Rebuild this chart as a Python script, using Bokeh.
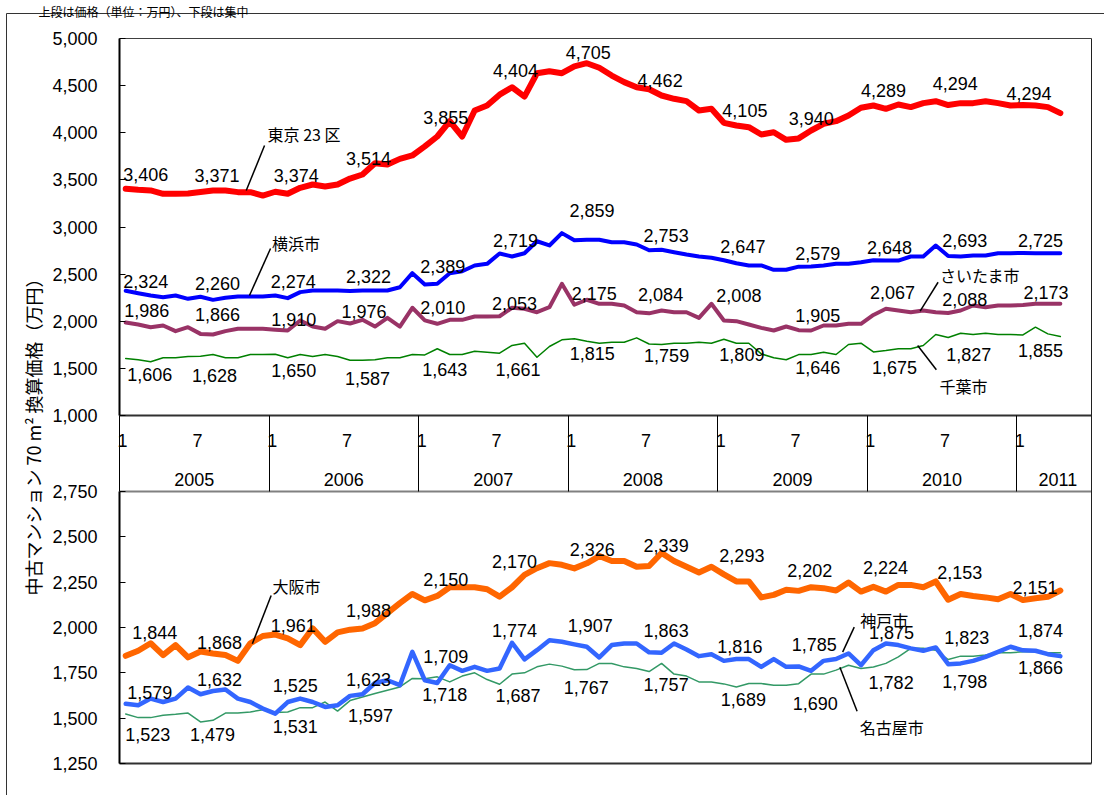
import math
from bokeh.plotting import figure
from bokeh.models import (Range1d, LinearAxis, FixedTicker, ColumnDataSource, Label,
                          NumeralTickFormatter)
from bokeh.core.properties import value
from bokeh.embed import file_html
from bokeh.resources import INLINE

# ---------------- data (monthly, Jan 2005 .. Apr 2011) ----------------
years = ["2005", "2006", "2007", "2008", "2009", "2010", "2011"]
month_marks = ["1", "7"]
n_slots = 78  # axis runs Jan 2005 .. Jun 2011

tokyo = [3406, 3395, 3388, 3352, 3352, 3355, 3371, 3388, 3388, 3370, 3370, 3334,
         3374, 3352, 3416, 3451, 3430, 3451, 3514, 3557, 3677, 3663, 3723, 3759,
         3855, 3960, 4122, 3960, 4236, 4289, 4404, 4483, 4384, 4631, 4653, 4632,
         4705, 4738, 4689, 4607, 4537, 4483, 4462, 4395, 4360, 4335, 4236, 4254,
         4105, 4077, 4059, 3981, 4006, 3925, 3940, 4024, 4095, 4123, 4183, 4265,
         4289, 4254, 4300, 4272, 4314, 4335, 4294, 4314, 4314, 4335, 4314, 4289,
         4294, 4289, 4272, 4208]
yokohama = [2324, 2298, 2273, 2255, 2273, 2238, 2260, 2227, 2249, 2262, 2262, 2262,
            2274, 2245, 2309, 2326, 2326, 2326, 2322, 2326, 2326, 2326, 2361, 2510,
            2389, 2397, 2510, 2531, 2592, 2609, 2719, 2687, 2722, 2849, 2804, 2935,
            2859, 2864, 2864, 2839, 2839, 2815, 2753, 2758, 2733, 2708, 2687, 2673,
            2647, 2616, 2592, 2592, 2546, 2546, 2579, 2580, 2592, 2609, 2609, 2627,
            2648, 2644, 2644, 2687, 2687, 2804, 2693, 2687, 2698, 2698, 2722, 2722,
            2725, 2722, 2722, 2722]
saitama = [1986, 1966, 1937, 1955, 1895, 1937, 1866, 1859, 1895, 1920, 1920, 1920,
           1910, 1902, 2008, 1944, 1920, 2001, 1976, 2015, 1944, 2036, 1944, 2143,
           2010, 1973, 2015, 2015, 2050, 2050, 2053, 2143, 2132, 2096, 2149, 2397,
           2175, 2228, 2185, 2185, 2167, 2096, 2084, 2114, 2096, 2096, 2036, 2185,
           2008, 2001, 1966, 1930, 1902, 1944, 1905, 1902, 1955, 1955, 1973, 1973,
           2067, 2132, 2114, 2096, 2114, 2096, 2088, 2114, 2167, 2149, 2167, 2167,
           2173, 2185, 2185, 2185]
chiba = [1606, 1591, 1570, 1612, 1612, 1626, 1628, 1647, 1612, 1612, 1647, 1647,
         1650, 1612, 1647, 1626, 1647, 1626, 1587, 1585, 1591, 1612, 1612, 1647,
         1643, 1708, 1647, 1647, 1682, 1672, 1661, 1743, 1767, 1618, 1732, 1803,
         1815, 1788, 1767, 1778, 1778, 1824, 1759, 1753, 1767, 1767, 1778, 1767,
         1809, 1767, 1767, 1654, 1612, 1591, 1646, 1647, 1672, 1647, 1753, 1767,
         1675, 1690, 1708, 1708, 1743, 1859, 1827, 1873, 1859, 1873, 1859, 1859,
         1855, 1937, 1866, 1838]
osaka = [1844, 1872, 1913, 1848, 1903, 1835, 1868, 1857, 1848, 1816, 1913, 1953,
         1961, 1940, 1903, 1995, 1921, 1973, 1988, 1995, 2024, 2079, 2134, 2185,
         2150, 2174, 2222, 2222, 2222, 2211, 2170, 2222, 2290, 2327, 2355, 2346,
         2326, 2354, 2394, 2367, 2367, 2335, 2339, 2411, 2367, 2335, 2303, 2335,
         2293, 2254, 2254, 2166, 2180, 2208, 2202, 2222, 2217, 2204, 2248, 2198,
         2224, 2198, 2235, 2235, 2222, 2254, 2153, 2185, 2174, 2166, 2156, 2185,
         2151, 2161, 2169, 2204]
kobe = [1579, 1571, 1608, 1589, 1608, 1669, 1632, 1650, 1658, 1608, 1589, 1553,
        1525, 1589, 1608, 1589, 1562, 1571, 1623, 1632, 1694, 1709, 1682, 1866,
        1709, 1694, 1792, 1761, 1783, 1761, 1774, 1916, 1824, 1875, 1930, 1921,
        1907, 1894, 1835, 1903, 1912, 1912, 1863, 1861, 1912, 1879, 1842, 1853,
        1816, 1826, 1826, 1783, 1826, 1783, 1785, 1761, 1816, 1826, 1857, 1792,
        1875, 1912, 1903, 1885, 1872, 1890, 1798, 1802, 1816, 1838, 1866, 1894,
        1874, 1872, 1853, 1842]
nagoya = [1523, 1503, 1503, 1516, 1521, 1528, 1479, 1488, 1528, 1528, 1534, 1547,
          1531, 1534, 1558, 1558, 1589, 1539, 1597, 1617, 1636, 1654, 1672, 1719,
          1718, 1728, 1700, 1732, 1750, 1713, 1687, 1743, 1750, 1783, 1798, 1787,
          1767, 1768, 1802, 1802, 1783, 1774, 1757, 1802, 1743, 1732, 1700, 1700,
          1689, 1672, 1691, 1691, 1682, 1682, 1690, 1743, 1743, 1765, 1792, 1774,
          1782, 1802, 1838, 1885, 1885, 1875, 1823, 1842, 1842, 1848, 1861, 1861,
          1866, 1866, 1861, 1861]

top_ticks = [1000, 1500, 2000, 2500, 3000, 3500, 4000, 4500, 5000]
bot_ticks = [1250, 1500, 1750, 2000, 2250, 2500, 2750]
label_idx = list(range(0, 73, 6))  # data labels every January / July

# ---------------- layout (pixel geometry of the two plot areas) ----------------
W, H = 1104, 795
PX_L, PX_R = 119, 1091            # x of slot 0 and slot 78
PX_T5000, PX_T1000 = 38, 415      # top panel 5000 / 1000
PX_B2750, PX_B1250 = 491, 763     # bottom panel 2750 / 1250
sx = (PX_R - PX_L) / n_slots
kt = (PX_T1000 - PX_T5000) / 4000.0
kb = (PX_B1250 - PX_B2750) / 1500.0
x_lo, x_hi = -PX_L / sx, (W - PX_L) / sx
t_lo, t_hi = 1000 + (PX_T1000 - H) / kt, 1000 + PX_T1000 / kt
b_lo, b_hi = 1250 + (PX_B1250 - H) / kb, 1250 + PX_B1250 / kb
t_frame_lo = 1000 + (PX_T1000 - PX_B1250) / kt   # value at bottom edge of plotting block


def tx(px):   # page x -> slot coordinate
    return (px - PX_L) / sx


def ty(py):   # page y -> top-panel value
    return 1000 + (PX_T1000 - py) / kt


# pixel offsets of data labels (dx, dy; dy positive = down)
lab_off = {
    "tokyo":    ([20, 16.5, 21, 18.5, 21, 16, 14, 11, 21, 12.5, 10, 7, 6],
                 [-14, -16.5, -16, -20, -29, -24, -14, -9, -12, -20, -15, -22, -12]),
    "yokohama": ([20, 17, 18, 18.5, 18, 16, 17.7, 17, 19, 19, 16, 16.5, 17.5],
                 [-9, -13, -14, -14, -18, -13, -30, -15, -14, -13, -13, -15, -12]),
    "saitama":  ([21, 17, 18.5, 14, 18, 15, 20, 11.5, 15, 19, 19, 16.5, 23],
                 [-12, -19, -10, -12, -13, -13, -11, -19, -24.5, -15, -22, -13.5, -12]),
    "chiba":    ([24, 14, 18.5, 17.5, 20, 18.5, 18, 17.5, 18, 19, 21, 20.5, 17.5],
                 [16, 19, 16, 18, 15, 16, 15, 12, 15, 13, 16, 16.5, 16]),
    "osaka":    ([29, 19, 18, 18.5, 21, 15, 18, 17, 18, 11, 12, 11.5, 12],
                 [-23, -9, -9, -19, -21, -35, -19, -21, -19, -20, -19, -27, -13]),
    "kobe":     ([24, 19, 20, 18.5, 21, 15, 16, 17, 16, 15.5, 18, 16.5, 17.5],
                 [-11, -14.5, -28, -16, -24, -38, -19, -22, -14, -22, -17.5, 17, -20]),
    "nagoya":   ([22, 12, 20, 20.5, 20, 18.5, 12, 17, 19.5, 16.6, 17.7, 18.5, 17.5],
                 [21, 13, 14, 15, 16, 11.5, 18, 13, 16, 20, 15.6, -22, 16]),
}

NUM_FONT = "Liberation Sans"
JP_FONT = "Noto Sans CJK JP"

p = figure(width=W, height=H, output_backend="svg", toolbar_location=None,
           x_range=Range1d(x_lo, x_hi), y_range=Range1d(t_lo, t_hi),
           x_axis_type=None, y_axis_type=None, title=None,
           min_border_left=0, min_border_right=0, min_border_top=0, min_border_bottom=0)
p.extra_y_ranges = {"bot": Range1d(b_lo, b_hi)}
p.outline_line_color = None
p.background_fill_color = "white"
p.border_fill_color = "white"


def no_tick_axis(**kw):
    ax = LinearAxis(ticker=FixedTicker(ticks=[]), **kw)
    ax.major_tick_line_color = None
    ax.minor_tick_line_color = None
    ax.major_label_text_color = None
    return ax


# outer chart border (left and top edges; the rest lies outside the picture)
outer_left = no_tick_axis(fixed_location=tx(6), bounds=(t_lo, ty(13)))
outer_left.axis_line_color = "#333333"
p.add_layout(outer_left, "left")
outer_top = no_tick_axis(fixed_location=ty(13), bounds=(tx(6), x_hi))
outer_top.axis_line_color = "#333333"
p.add_layout(outer_top, "above")

# left value axes
ax_top = LinearAxis(ticker=FixedTicker(ticks=top_ticks), fixed_location=0, bounds=(1000, 5000))
ax_bot = LinearAxis(ticker=FixedTicker(ticks=bot_ticks), fixed_location=0, bounds=(1250, 2750),
                    y_range_name="bot")
for ax in (ax_top, ax_bot):
    ax.formatter = NumeralTickFormatter(format="0,0")
    ax.axis_line_width = 2
    ax.axis_line_color = "black"
    ax.major_tick_in = 6
    ax.major_tick_out = 0
    ax.minor_tick_line_color = None
    ax.major_label_standoff = 22
    ax.major_label_text_font = NUM_FONT
    ax.major_label_text_font_size = "18px"
    ax.major_label_text_color = "black"
    p.add_layout(ax, "left")

# frame borders
top_border = no_tick_axis(fixed_location=5000, bounds=(0, n_slots))
top_border.axis_line_color = "#404040"
p.add_layout(top_border, "above")
right_border = no_tick_axis(fixed_location=n_slots, bounds=(t_frame_lo, 5000))
right_border.axis_line_color = "#202020"
p.add_layout(right_border, "right")
band_bottom = no_tick_axis(fixed_location=2750, y_range_name="bot", bounds=(0, n_slots))
band_bottom.axis_line_color = "#808080"
band_bottom.axis_line_width = 2
p.add_layout(band_bottom, "above")
bot_border = no_tick_axis(fixed_location=1250, y_range_name="bot", bounds=(0, n_slots))
bot_border.axis_line_color = "#303030"
bot_border.axis_line_width = 2
p.add_layout(bot_border, "below")

# category band: year separators
year_sep = LinearAxis(ticker=FixedTicker(ticks=[12 * k for k in range(7)] + [n_slots]),
                      fixed_location=1000, bounds=(0, n_slots))
year_sep.axis_line_width = 2
year_sep.axis_line_color = "#303030"
year_sep.major_tick_in = 0
year_sep.major_tick_out = PX_B2750 - PX_T1000
year_sep.major_tick_line_color = "black"
year_sep.minor_tick_line_color = None
year_sep.major_label_text_color = None
p.add_layout(year_sep, "below")

# month labels
m_ticks = [6 * k + 0.25 for k in range(13)]
month_ax = LinearAxis(ticker=FixedTicker(ticks=m_ticks), fixed_location=1000,
                      major_label_overrides={t: month_marks[k % 2] for k, t in enumerate(m_ticks)})
# year labels
y_ticks = [12 * k + 6 for k in range(6)] + [75.3]
year_ax = LinearAxis(ticker=FixedTicker(ticks=y_ticks), fixed_location=1000,
                     major_label_overrides={t: years[k] for k, t in enumerate(y_ticks)})
for ax, so in ((month_ax, 18), (year_ax, 57)):
    ax.axis_line_color = None
    ax.major_tick_line_color = None
    ax.minor_tick_line_color = None
    ax.major_tick_in = 0
    ax.major_tick_out = 0
    ax.major_label_standoff = so
    ax.major_label_text_font = NUM_FONT
    ax.major_label_text_font_size = "18px"
    ax.major_label_text_color = "black"
    p.add_layout(ax, "below")

# ---------------- series ----------------
series = [
    ("tokyo", tokyo, "#FF0000", 6, "default"),
    ("yokohama", yokohama, "#0000FF", 4, "default"),
    ("saitama", saitama, "#993366", 4, "default"),
    ("chiba", chiba, "#008000", 1.5, "default"),
    ("nagoya", nagoya, "#339966", 1.5, "bot"),
    ("kobe", kobe, "#3366FF", 4.5, "bot"),
    ("osaka", osaka, "#FF6600", 6, "bot"),
]
for name, vals, color, lw, rng in series:
    xs = [i + 0.5 for i in range(len(vals))]
    p.line(xs, vals, line_color=color, line_width=lw, line_join="round", line_cap="round",
           y_range_name=rng)

for name, vals, color, lw, rng in series:
    dx, dy = lab_off[name]
    src = ColumnDataSource(dict(
        x=[i + 0.5 for i in label_idx],
        y=[vals[i] for i in label_idx],
        t=[f"{vals[i]:,}" for i in label_idx],
        dx=dx, dy=dy))
    p.text("x", "y", text="t", x_offset="dx", y_offset="dy", source=src,
           text_font=value(NUM_FONT), text_font_size="18px", text_color="black",
           text_align="center", text_baseline="middle", y_range_name=rng)

# ---------------- callouts (name, text pos, leader line) ----------------
callouts = [
    ("東京 23 区", (14.81, 3987), (11.64, 3865), (10.17, 3387), "default"),
    ("横浜市", (14.17, 2830), (12.12, 2772), (10.43, 2273), "default"),
    ("さいたま市", (69.06, 2491), (65.69, 2414), (64.25, 2107), "default"),
    ("千葉市", (67.72, 1313), (64.05, 1743), (65.55, 1485), "default"),
    ("大阪市", (14.21, 2229), (12.17, 2176), (10.66, 1910), "bot"),
    ("神戸市", (61.36, 2039), (58.96, 2002), (58.03, 1864), "bot"),
    ("名古屋市", (61.98, 1451), (59.19, 1538), (57.81, 1781), "bot"),
]
for txt, tp, a, b, rng in callouts:
    p.segment(x0=[a[0]], y0=[a[1]], x1=[b[0]], y1=[b[1]], line_color="black",
              line_width=1.5, y_range_name=rng)
    p.add_layout(Label(x=tp[0], y=tp[1], text=txt, y_range_name=rng,
                       text_font=JP_FONT, text_font_size="16px", text_color="black",
                       text_align="center", text_baseline="middle"))

# y-axis title and heading
p.add_layout(Label(x=tx(32), y=ty(432), text="中古マンション 70 m² 換算価格（万円）",
                   angle=math.pi / 2, text_font=JP_FONT, text_font_size="18px",
                   text_color="black", text_align="center", text_baseline="middle"))
p.add_layout(Label(x=tx(38), y=ty(11), text="上段は価格（単位：万円）、下段は集中",
                   text_font=JP_FONT, text_font_size="12px", text_color="black",
                   text_align="left", text_baseline="alphabetic"))

open("out.html", "w").write(file_html(p, INLINE))
